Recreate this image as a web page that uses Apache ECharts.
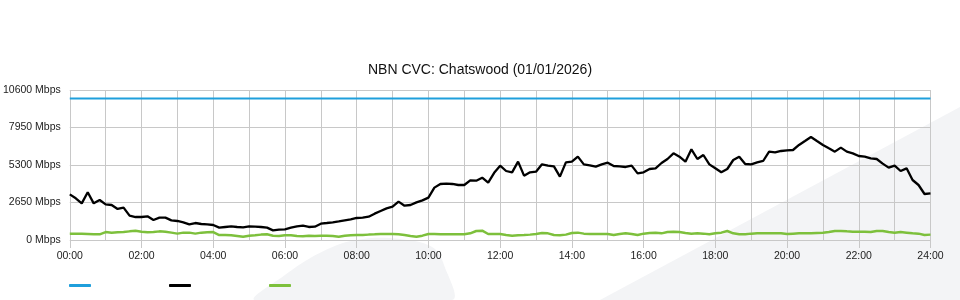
<!DOCTYPE html>
<html>
<head>
<meta charset="utf-8">
<script src="https://cdn.jsdelivr.net/npm/echarts@6/dist/echarts.min.js"></script>
<style>
html,body{margin:0;padding:0;background:#fff;}
#chart{width:960px;height:300px;}
</style>
</head>
<body>
<div id="chart"></div>
<script>
// ---- data (10-minute samples, 00:00 .. 24:00) ----
const TITLE = 'NBN CVC: Chatswood (01/01/2026)';
const Y_MAX = 10600;
const Y_STEP = 2650;
const CAPACITY = 10000;

const times = [];
for (let i = 0; i <= 144; i++) {
  const h = Math.floor(i / 6), m = (i % 6) * 10;
  times.push(String(h).padStart(2, '0') + ':' + String(m).padStart(2, '0'));
}

const download = [
  3227,2945,2591,3369,2591,2827,2521,2474,2191,2285,
  1720,1625,1625,1673,1413,1578,1578,1390,1343,1249,
  1107,1201,1131,1107,1060,872,919,966,919,895,
  966,942,919,872,683,730,754,872,966,1013,
  919,942,1154,1201,1249,1319,1390,1461,1555,1578,
  1649,1861,2049,2238,2356,2709,2426,2474,2662,2803,
  2992,3700,3958,3981,3958,3887,3887,4217,4193,4405,
  4050,4750,5250,4876,4782,5536,4546,4782,4829,5347,
  5253,5206,4476,5489,5536,5889,5347,5277,5183,5347,
  5465,5230,5206,5159,5253,4711,4782,5018,5065,5442,
  5724,6125,5889,5536,6408,5724,6007,5347,5065,4782,
  5018,5654,5889,5371,5347,5489,5583,6243,6195,6290,
  6337,6360,6714,6996,7279,6996,6714,6478,6243,6525,
  6243,6125,5936,5889,5771,5724,5395,5112,5253,4876,
  5065,4240,3887,3251,3298
];

const upload = [
  440,450,450,430,410,400,560,520,540,560,
  610,650,590,540,560,610,590,520,450,520,
  520,450,520,540,560,353,353,330,283,236,
  306,330,380,400,306,283,330,330,283,260,
  306,283,306,306,283,236,306,330,353,353,
  380,400,424,424,424,400,353,283,236,306,
  424,424,400,400,400,400,400,470,636,660,
  424,424,424,353,306,330,353,380,424,495,
  470,353,330,380,495,520,450,424,424,424,
  424,353,424,470,424,353,450,495,520,470,
  560,589,560,495,450,470,450,400,470,520,
  636,470,400,400,450,470,470,470,470,470,
  424,450,470,470,470,495,520,560,636,636,
  610,589,589,589,560,636,636,560,520,560,
  520,470,450,353,380
];

const capacity = [[times[0], CAPACITY], [times[times.length - 1], CAPACITY]];

// ---- chart ----
const chart = echarts.init(document.getElementById('chart'), null, {renderer: 'canvas'});
const FONT = '"Liberation Sans", Arial, sans-serif';
const GRID_COLOR = '#c8c8c8';

chart.setOption({
  animation: false,
  backgroundColor: '#ffffff',
  textStyle: {fontFamily: FONT},
  graphic: [
    {type: 'polygon', z: -10, silent: true,
     shape: {points: [[255,300],[285,275],[312,257],[343,243],[372,238],[400,239],[423,243],[436,250],[444,265],[452,300]], smooth: 0.3},
     style: {fill: '#f3f4f6'}},
    {type: 'polygon', z: -10, silent: true,
     shape: {points: [[600,300],[960,107],[960,300]]},
     style: {fill: '#f3f4f6'}}
  ],
  title: {
    text: TITLE,
    left: 'center',
    top: 58,
    textStyle: {fontFamily: FONT, fontSize: 14, fontWeight: 'normal', color: '#111'}
  },
  legend: {
    left: 64,
    top: 279,
    itemWidth: 22,
    itemHeight: 3,
    itemGap: 78,
    icon: 'roundRect',
    formatter: function () { return ''; },
    data: ['Capacity', 'Download', 'Upload']
  },
  grid: {left: 69.5, right: 29.5, top: 90, bottom: 60, containLabel: false},
  xAxis: {
    type: 'category',
    data: times,
    boundaryGap: false,
    axisLine: {show: false},
    axisTick: {
      show: true, length: 8,
      interval: function (i) { return i % 12 === 0; },
      lineStyle: {color: GRID_COLOR}
    },
    axisLabel: {
      interval: function (i) { return i % 12 === 0; },
      margin: 11,
      fontSize: 10.5,
      color: '#222',
      fontFamily: FONT
    },
    splitLine: {
      show: true,
      interval: function (i) { return i % 6 === 0; },
      lineStyle: {color: GRID_COLOR, width: 1}
    }
  },
  yAxis: {
    type: 'value',
    min: 0,
    max: Y_MAX,
    interval: Y_STEP,
    axisLine: {show: false},
    axisTick: {show: false},
    axisLabel: {
      formatter: function (v) { return v + ' Mbps'; },
      fontSize: 10.5,
      color: '#222',
      margin: 9,
      padding: [0, 0, 5, 0],
      fontFamily: FONT
    },
    splitLine: {show: true, lineStyle: {color: GRID_COLOR, width: 1}}
  },
  series: [
    {name: 'Capacity', type: 'line', data: capacity, symbol: 'none',
     lineStyle: {color: '#1f9fdc', width: 2.2}, itemStyle: {color: '#1f9fdc'}, z: 3},
    {name: 'Download', type: 'line', data: download, symbol: 'none',
     lineStyle: {color: '#000000', width: 2.3}, itemStyle: {color: '#000000'}, z: 4},
    {name: 'Upload', type: 'line', data: upload, symbol: 'none',
     lineStyle: {color: '#7dc03c', width: 2.5}, itemStyle: {color: '#7dc03c'}, z: 3}
  ]
});
</script>
</body>
</html>
